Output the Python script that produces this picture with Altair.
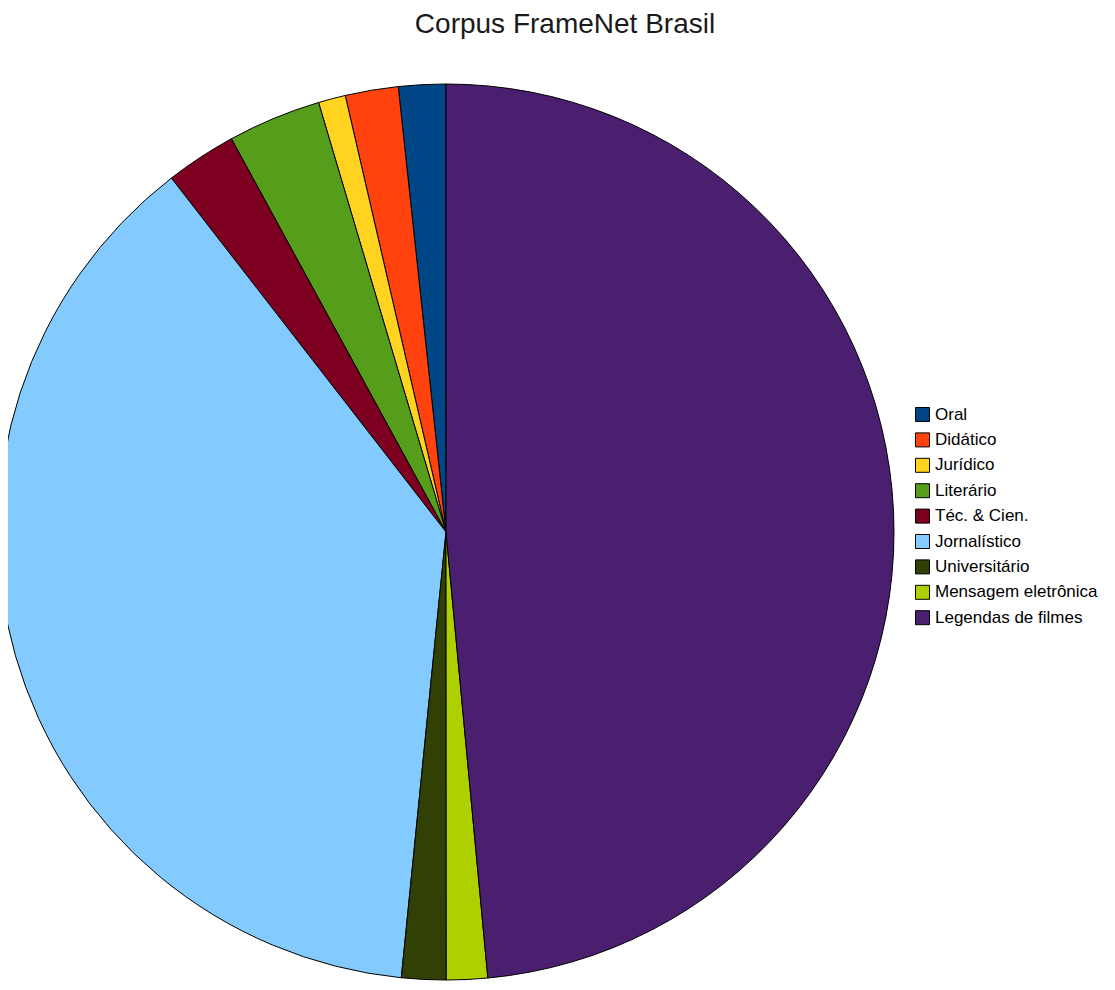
import altair as alt
import pandas as pd

categories = ["Oral", "Didático", "Jurídico", "Literário", "Téc. & Cien.",
              "Jornalístico", "Universitário", "Mensagem eletrônica", "Legendas de filmes"]
shares = [1.70, 1.91, 0.98, 3.36, 2.55, 37.9, 1.60, 1.48, 48.5]
colors = ["#004586", "#ff420e", "#ffd320", "#579d1c", "#7e0021",
          "#83caff", "#314004", "#aecf00", "#4b1f6f"]
title_text = "Corpus FrameNet Brasil"

df = pd.DataFrame({"categoria": categories, "valor": shares, "ord": list(range(len(categories)))})

pie = alt.Chart(df).mark_arc(stroke="black", strokeWidth=1).encode(
    theta=alt.Theta("valor:Q", stack=True),
    order=alt.Order("ord:Q", sort="descending"),
    color=alt.Color(
        "categoria:N",
        scale=alt.Scale(domain=categories, range=colors),
        legend=alt.Legend(
            title=None, orient="none", legendX=906, legendY=398,
            symbolType="square", symbolSize=196, symbolStrokeColor="black",
            symbolStrokeWidth=1, symbolOpacity=1,
            labelFont="Liberation Sans", labelFontSize=17, labelColor="black",
            labelOffset=4, rowPadding=6.4, labelLimit=300,
        ),
    ),
    x=alt.value(438),
    y=alt.value(524),
    radius=alt.value(448),
)

title = alt.Chart(pd.DataFrame({"t": [title_text]})).mark_text(
    font="Liberation Sans", fontSize=28, color="#1a1a1a", align="center", baseline="middle"
).encode(text="t:N", x=alt.value(557), y=alt.value(17))

chart = alt.layer(pie, title).properties(
    width=1099, height=974, padding=0, autosize=alt.AutoSizeParams(type="none")
).configure_view(stroke=None)

chart.save("out.html", embed_options={"renderer": "svg", "actions": False})
